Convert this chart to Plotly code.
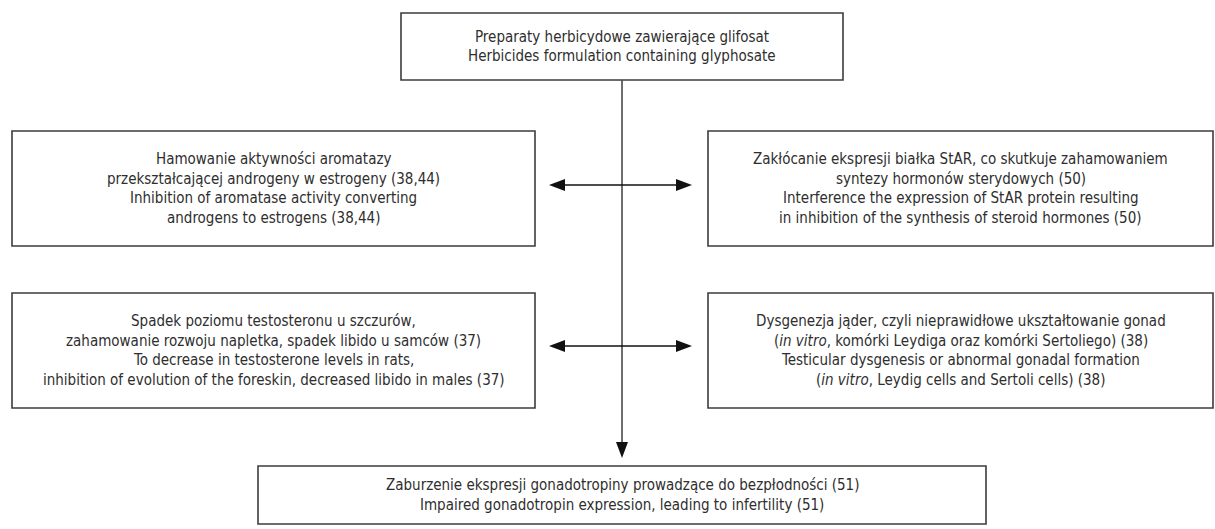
import plotly.graph_objects as go

# ---- text content ----
top_lines = ["Preparaty herbicydowe zawierające glifosat",
             "Herbicides formulation containing glyphosate"]
left1_lines = ["Hamowanie aktywności aromatazy",
               "przekształcającej androgeny w estrogeny (38,44)",
               "Inhibition of aromatase activity converting",
               "androgens to estrogens (38,44)"]
right1_lines = ["Zakłócanie ekspresji białka StAR, co skutkuje zahamowaniem",
                "syntezy hormonów sterydowych (50)",
                "Interference the expression of StAR protein resulting",
                "in inhibition of the synthesis of steroid hormones (50)"]
left2_lines = ["Spadek poziomu testosteronu u szczurów,",
               "zahamowanie rozwoju napletka, spadek libido u samców (37)",
               "To decrease in testosterone levels in rats,",
               "inhibition of evolution of the foreskin, decreased libido in males (37)"]
right2_lines = ["Dysgenezja jąder, czyli nieprawidłowe ukształtowanie gonad",
                "(<i>in vitro</i>, komórki Leydiga oraz komórki Sertoliego) (38)",
                "Testicular dysgenesis or abnormal gonadal formation",
                "(<i>in vitro</i>, Leydig cells and Sertoli cells) (38)"]
bottom_lines = ["Zaburzenie ekspresji gonadotropiny prowadzące do bezpłodności (51)",
                "Impaired gonadotropin expression, leading to infertility (51)"]

# ---- layout geometry (pixels) ----
W, H = 1215, 529
boxes = [
    (401, 843, 13, 80, top_lines),
    (12, 535, 131, 246, left1_lines),
    (708, 1213, 131, 246, right1_lines),
    (12, 535, 293, 408, left2_lines),
    (708, 1213, 293, 408, right2_lines),
    (258, 986, 466, 524, bottom_lines),
]
LINE_H = 19.5
FONT = dict(family="DejaVu Sans Condensed, Liberation Sans Narrow, Liberation Sans, sans-serif",
            size=15, color="#2e2e2e")
CX = 622
arrow_rows = [185, 346]
tipL, tipR = 549, 692
AL, AW = 16, 12  # arrowhead length / width

fig = go.Figure()
shapes = []
annotations = []

for x0, x1, y0, y1, lines in boxes:
    shapes.append(dict(type="rect", xref="x", yref="y", x0=x0, x1=x1, y0=y0, y1=y1,
                       line=dict(color="#3c3c3c", width=1.6), fillcolor="rgba(0,0,0,0)"))
    n = len(lines)
    yc = (y0 + y1) / 2
    for i, t in enumerate(lines):
        annotations.append(dict(x=(x0 + x1) / 2, y=yc + (i - (n - 1) / 2) * LINE_H,
                                xref="x", yref="y", text=t, showarrow=False,
                                xanchor="center", yanchor="middle", font=FONT))

# vertical connector with arrowhead at bottom
top_box_bottom = boxes[0][3]
bottom_box_top = boxes[5][2]
tipD = bottom_box_top - 8
shapes.append(dict(type="line", xref="x", yref="y", x0=CX, x1=CX, y0=top_box_bottom, y1=tipD - AL + 1,
                   line=dict(color="#4a4a4a", width=1.6)))
shapes.append(dict(type="path", xref="x", yref="y",
                   path=f"M {CX-AW/2} {tipD-AL} L {CX+AW/2} {tipD-AL} L {CX} {tipD} Z",
                   fillcolor="#111111", line=dict(width=0)))

# horizontal double arrows
for ya in arrow_rows:
    shapes.append(dict(type="line", xref="x", yref="y", x0=tipL + AL - 1, x1=tipR - AL + 1, y0=ya, y1=ya,
                       line=dict(color="#111111", width=1.6)))
    shapes.append(dict(type="path", xref="x", yref="y",
                       path=f"M {tipL} {ya} L {tipL+AL} {ya-AW/2} L {tipL+AL} {ya+AW/2} Z",
                       fillcolor="#111111", line=dict(width=0)))
    shapes.append(dict(type="path", xref="x", yref="y",
                       path=f"M {tipR} {ya} L {tipR-AL} {ya-AW/2} L {tipR-AL} {ya+AW/2} Z",
                       fillcolor="#111111", line=dict(width=0)))

fig.update_layout(
    width=W, height=H, autosize=False,
    margin=dict(l=0, r=0, t=0, b=0),
    paper_bgcolor="white", plot_bgcolor="white",
    xaxis=dict(range=[0, W], visible=False, fixedrange=True),
    yaxis=dict(range=[H, 0], visible=False, fixedrange=True),
    shapes=shapes, annotations=annotations, showlegend=False,
)

fig.write_html("out.html", config={"displayModeBar": False},
               post_script="document.body.style.margin='0';document.body.style.overflow='hidden';")
